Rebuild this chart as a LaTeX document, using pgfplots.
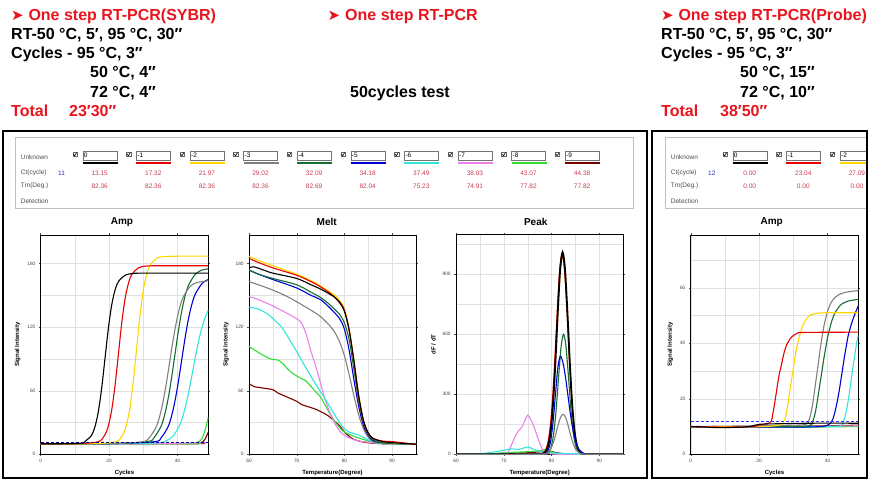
\documentclass[border=0pt]{standalone}
\usepackage{fontspec}
\usepackage{pgfplots}
\pgfplotsset{compat=1.18}
\setmainfont{Liberation Sans}
\newfontfamily\sym{DejaVu Sans}

\definecolor{hdrred}{RGB}{232,20,30}
\definecolor{c0}{RGB}{0,0,0}
\definecolor{c1}{RGB}{230,0,0}
\definecolor{c2}{RGB}{255,215,0}
\definecolor{c3}{RGB}{128,128,128}
\definecolor{c4}{RGB}{20,110,50}
\definecolor{c5}{RGB}{0,0,210}
\definecolor{c6}{RGB}{50,230,220}
\definecolor{c7}{RGB}{235,130,235}
\definecolor{c8}{RGB}{50,220,50}
\definecolor{c9}{RGB}{120,0,0}
\definecolor{valred}{RGB}{200,60,80}
\definecolor{valblue}{RGB}{40,40,200}

\newcommand\hf{\bfseries\fontsize{16}{17}\selectfont}
\newcommand\arr{\sym\fontsize{15}{15}\selectfont ➤}

\pgfplotsset{
  pcr/.style={
    scale only axis, anchor=south west,
    axis line style={black, line width=0.6pt},
    grid=both,
    grid style={black!12, line width=0.4pt},
    tick align=outside, major tick length=1.8pt, minor tick length=0pt,
    tick style={black!70, line width=0.4pt},
    ticklabel style={font=\fontsize{4.8}{5}\selectfont, text=black!75},
    /pgf/number format/assume math mode=true,
    label style={font=\bfseries\fontsize{6}{7}\selectfont},
    every axis plot/.append style={line width=1.1pt, no marks, smooth},
  },
}

\begin{document}
\begin{tikzpicture}

% ---------------- header text ----------------
\begin{scope}[x=1pt, y=-1pt, every node/.style={anchor=base west, inner sep=0pt}]
  \node[text=hdrred] at (11,20.7) {\arr};
  \node[text=hdrred] at (28.3,20.7) {\hf One step RT-PCR(SYBR)};
  \node at (11,39.5) {\hf RT-50 °C, 5′, 95 °C, 30″};
  \node at (11,58.5) {\hf Cycles - 95 °C, 3″};
  \node at (90,77.5) {\hf 50 °C, 4″};
  \node at (90,97) {\hf 72 °C, 4″};
  \node[text=hdrred] at (11,116.5) {\hf Total};
  \node[text=hdrred] at (69,116.5) {\hf 23′30″};

  \node[text=hdrred] at (327.5,20.7) {\arr};
  \node[text=hdrred] at (345,20.7) {\hf One step RT-PCR};
  \node at (350,97) {\hf 50cycles test};

  \node[text=hdrred] at (661,20.7) {\arr};
  \node[text=hdrred] at (678.3,20.7) {\hf One step RT-PCR(Probe)};
  \node at (661,39.5) {\hf RT-50 °C, 5′, 95 °C, 30″};
  \node at (661,58.5) {\hf Cycles - 95 °C, 3″};
  \node at (740,77.5) {\hf 50 °C, 15″};
  \node at (740,97) {\hf 72 °C, 10″};
  \node[text=hdrred] at (661,116.5) {\hf Total};
  \node[text=hdrred] at (720,116.5) {\hf 38′50″};
\end{scope}

% ---------------- left result table ----------------
\begin{scope}[x=1pt, y=-1pt, font=\fontsize{6.5}{7}\selectfont]
  \draw[black!25, line width=0.5pt] (15,137) rectangle (633,208);
  \node[anchor=west, inner sep=0pt, text=black!70] at (20.7,157) {Unknown};
  \node[anchor=west, inner sep=0pt, text=black!70] at (20.7,173.3) {Ct(cycle)};
  \node[anchor=west, inner sep=0pt, text=black!70] at (20.7,186) {Tm(Deg.)};
  \node[anchor=west, inner sep=0pt, text=black!70] at (20.7,200.7) {Detection};
  \node[anchor=west, inner sep=0pt, text=valblue] at (58,173.3) {11};
  \foreach \lab/\col/\ct/\tm [count=\i from 0] in
    {0/c0/13.15/82.36, -1/c1/17.32/82.36, -2/c2/21.97/82.36, -3/c3/29.02/82.36,
     -4/c4/32.09/82.69, -5/c5/34.18/82.04, -6/c6/37.49/75.23, -7/c7/38.03/74.91,
     -8/c8/43.07/77.82, -9/c9/44.38/77.82} {
    \pgfmathsetmacro\cx{72.7+53.6*\i}
    \draw[black!60, line width=0.4pt] (\cx,152) rectangle +(4.5,4.5);
    \draw[black, line width=0.6pt] (\cx+0.8,154) -- (\cx+2,155.8) -- (\cx+4,152.6);
    \draw[black!55, fill=white, line width=0.4pt] (\cx+10,150.7) rectangle (\cx+44,160);
    \node[anchor=west, inner sep=0.5pt] at (\cx+10.5,155.3) {\lab};
    \draw[\col, line width=2pt] (\cx+10,163) -- (\cx+45,163);
    \node[text=valred, inner sep=0pt] at (\cx+27,173.3) {\ct};
    \node[text=valred, inner sep=0pt] at (\cx+27,186) {\tm};
  }
\end{scope}

% ---------------- right result table (cut by the frame) ----------------
\begin{scope}[x=1pt, y=-1pt, font=\fontsize{6.5}{7}\selectfont]
  \clip (653,131) rectangle (866,478);
  \draw[black!25, line width=0.5pt] (665,137) rectangle (900,208);
  \node[anchor=west, inner sep=0pt, text=black!70] at (670.7,157) {Unknown};
  \node[anchor=west, inner sep=0pt, text=black!70] at (670.7,173.3) {Ct(cycle)};
  \node[anchor=west, inner sep=0pt, text=black!70] at (670.7,186) {Tm(Deg.)};
  \node[anchor=west, inner sep=0pt, text=black!70] at (670.7,200.7) {Detection};
  \node[anchor=west, inner sep=0pt, text=valblue] at (708,173.3) {12};
  \foreach \lab/\col/\ct/\tm [count=\i from 0] in
    {0/c0/0.00/0.00, -1/c1/23.04/0.00, -2/c2/27.09/0.00} {
    \pgfmathsetmacro\cx{722.7+53.6*\i}
    \draw[black!60, line width=0.4pt] (\cx,152) rectangle +(4.5,4.5);
    \draw[black, line width=0.6pt] (\cx+0.8,154) -- (\cx+2,155.8) -- (\cx+4,152.6);
    \draw[black!55, fill=white, line width=0.4pt] (\cx+10,150.7) rectangle (\cx+44,160);
    \node[anchor=west, inner sep=0.5pt] at (\cx+10.5,155.3) {\lab};
    \draw[\col, line width=2pt] (\cx+10,163) -- (\cx+45,163);
    \node[text=valred, inner sep=0pt] at (\cx+27,173.3) {\ct};
    \node[text=valred, inner sep=0pt] at (\cx+27,186) {\tm};
  }
\end{scope}

% ---------------- panel titles ----------------
\begin{scope}[x=1pt, y=-1pt, every node/.style={font=\bfseries\fontsize{10}{11}\selectfont}]
  \node at (122,222) {Amp};
  \node at (326.7,222) {Melt};
  \node at (535.7,222) {Peak};
  \node at (771.7,222) {Amp};
\end{scope}

% ---------------- Amp (SYBR) ----------------
\begin{axis}[pcr, at={(40.7pt,-454.3pt)}, width=167.6pt, height=219.3pt,
  xmin=0, xmax=49, ymin=0, ymax=207,
  xtick={0,20,40}, minor xtick={10,30}, ytick={0,60,120,180}, minor ytick={30,90,150},
  xlabel={Cycles}, ylabel={Signal Intensity}]
  \addplot[c9] coordinates {(0,10)(45,10)(46,10.3)(47,11)(48,14)(49,21)};
  \addplot[c8] coordinates {(0,10)(44,10)(45,10.5)(46,11.5)(47,14)(48,22)(49,35)};
  \addplot[c7] coordinates {(0,10)(30,10)(49,11)};
  \addplot[c6] coordinates {(0,10)(25,10)(34.5,10.9)(36.5,12.5)(38.5,16.5)(40.5,26.5)(41.5,35.3)(42.5,47.4)(43.5,62.5)(44.5,79.5)(45.5,96.5)(46.5,111.6)(47.5,123.7)(48.5,132.5)(49,136)};
  \addplot[c5] coordinates {(0,10)(20,10)(33.2,11.9)(35.2,15.6)(37.2,25.7)(38.2,35.3)(39.2,49.3)(40.2,67.5)(41.2,88.5)(42.2,109.5)(43.2,127.8)(44.2,141.7)(45.2,151.3)(47.2,161.3)(49,165)};
  \addplot[c4] coordinates {(0,10)(20,10)(31.2,12)(33.2,15.9)(35.2,26.6)(36.2,36.7)(37.2,51.5)(38.2,70.8)(39.2,93)(40.2,115.2)(41.2,134.5)(42.2,149.3)(43.2,159.4)(45.2,170)(47.2,174)(49,175)};
  \addplot[c3] coordinates {(0,10)(20,10)(29.7,11.8)(31.7,15.5)(33.7,25.4)(34.7,34.8)(35.7,48.5)(36.7,66.4)(37.7,87)(38.7,107.6)(39.7,125.5)(40.7,139.2)(41.7,148.6)(43.7,158.5)(45.7,162.2)(49,163.8)};
  \addplot[c2] coordinates {(0,10)(15,10)(22,11.9)(24,18.3)(25,26.8)(26,42.2)(27,66.8)(28,98.5)(29,130.2)(30,154.8)(31,170.2)(32,178.7)(34,185.1)(36,186.6)(40,187)(49,187)};
  \addplot[c1] coordinates {(0,10)(10,10)(16.7,11.8)(18.7,17.9)(19.7,26)(20.7,40.6)(21.7,63.9)(22.7,94)(23.7,124.1)(24.7,147.4)(25.7,162)(26.7,170.1)(28.7,176.2)(30.7,177.6)(34,178)(49,178)};
  \addplot[c0] coordinates {(0,10)(6,10)(12,10.5)(12.8,11.8)(14.8,17.6)(15.8,25.3)(16.8,39.3)(17.8,61.7)(18.8,90.5)(19.8,119.3)(20.8,141.7)(21.8,155.7)(22.8,163.4)(24.8,169.2)(26.8,170.6)(30,171)(49,171)};
  \addplot[blue!60!black, densely dashed, line width=0.6pt, sharp plot] coordinates {(0,11)(49,11)};
\end{axis}

% ---------------- Melt ----------------
\begin{axis}[pcr, at={(249pt,-454.3pt)}, width=167pt, height=219.3pt,
  xmin=60, xmax=95, ymin=0, ymax=207,
  xtick={60,70,80,90}, minor xtick={65,75,85}, ytick={0,60,120,180}, minor ytick={30,90,150},
  xlabel={Temperature(Degree)}, ylabel={Signal Intensity}]
  \addplot[c9] coordinates {(60,67)(61,64)(63,62.5)(65,61)(66,58)(68,54)(70,50)(71,47)(72,45.5)(74,42.5)(76,38)(77,35)(78,31)(79,27)(80,21)(81,17)(82,14)(84,11.5)(86,10.5)(88,10)(95,9.5)};
  \addplot[c8] coordinates {(60,102)(62,96)(64,91)(65,89.5)(66,89)(67,86)(68,81)(69,77)(70,74)(71,71.5)(72,69)(73,64)(74,59)(75,54)(76,46)(77,38)(78,31)(79,25)(80,21)(82,17)(84,14)(86,11)(88,10)(95,9.5)};
  \addplot[c7] coordinates {(60,149)(62,146)(65,140)(68,133)(70,128)(71,124)(72,113)(73,97)(74,83)(75,67)(76,51)(77,39)(78,29)(79,22)(80,18)(81,15.5)(83,12.5)(86,11)(90,10)(95,9.5)};
  \addplot[c6] coordinates {(60,139)(62,137)(64,132)(66,124)(67,119)(68,112)(70,97)(72,81)(74,66)(76,52)(78,37)(79,30)(80,24)(81,21)(82,19.5)(83,18)(84,16)(85,13.5)(86,12)(88,10.5)(95,9.5)};
  \addplot[c3] coordinates {(60,163)(62,160)(65,155)(68,149)(70,144)(73,136)(75,130)(77,121)(78,115)(79,106)(80,93)(81,75)(82,55)(83,37)(84,24)(85,16)(86,12)(88,10.5)(95,9.5)};
  \addplot[c5] coordinates {(60,174)(62,170)(65,165)(70,157)(73,150)(75,146)(77,138)(79,128)(80,118)(81,98)(82,70)(83,45)(84,27)(85,18)(86,13)(88,11)(95,9.5)};
  \addplot[c4] coordinates {(60,174)(62,170)(65,166)(70,160)(73,153)(75,148)(77,141)(79,132)(80,124)(81,108)(82,80)(83,50)(84,30)(85,19)(86,14)(88,11)(95,9.5)};
  \addplot[c2] coordinates {(60,187)(62,183)(65,178)(70,170)(73,164)(75,159)(77,153)(78,150)(79,145)(80,137)(81,118)(82,88)(83,55)(84,32)(85,20)(86,15)(88,12)(90,11)(95,9.5)};
  \addplot[c1] coordinates {(60,185)(62,181)(65,176)(70,169)(73,163)(75,158)(77,152)(78,148)(79,144)(80,136)(81,117)(82,87)(83,54)(84,31)(85,20)(86,15)(88,12.5)(90,12)(92,11)(95,9.5)};
  \addplot[c0] coordinates {(60,176)(61,177)(63,174)(65,171)(70,166)(73,160)(75,156)(77,151)(78,148)(79,143)(80,135)(81,117)(82,88)(83,55)(84,32)(85,20)(86,15)(88,12)(90,11)(95,9.5)};
\end{axis}

% ---------------- Peak ----------------
\begin{axis}[pcr, at={(456pt,-454.3pt)}, width=167.3pt, height=220pt,
  xmin=60, xmax=95, ymin=0, ymax=1100,
  xtick={60,70,80,90}, minor xtick={65,75,85}, ytick={0,300,600,900}, minor ytick={150,450,750,1050},
  xlabel={Temperature(Degree)}, ylabel={dF / dT}]
  \addplot[c9] coordinates {(60,0)(68,2)(72,5)(75,8)(77,11)(78.5,14)(79.5,15)(80.5,11)(81.5,6)(83,2)(85,0)(95,0)};
  \addplot[c8] coordinates {(60,0)(65,1)(68,4)(70,8)(73,11)(75,13)(77,17)(78,21)(79,24)(79.5,20)(80,12)(81,5)(82,2)(84,0)(95,0)};
  \addplot[c7] coordinates {(60,0)(69,0)(70,1)(70.5,4)(71,15)(71.5,40)(72,70)(72.5,95)(73,115)(73.5,128)(74,145)(74.5,175)(75,196)(75.5,180)(76,155)(76.5,125)(77,90)(77.5,58)(78,30)(78.5,12)(79,5)(80,2)(82,0)(95,0)};
  \addplot[c6] coordinates {(60,0)(64,1)(66,5)(68,12)(70,20)(71,26)(72,27)(73,24)(74,30)(75,37)(76,28)(77,18)(78,12)(79,9)(80,7)(82,5)(84,3)(86,1)(88,0)(95,0)};
  \addplot[c2] coordinates {(60,0)(76,0)(78.3,4)(78.8,14)(79.3,43)(79.8,113)(80.3,247)(80.8,454)(81.3,700)(81.8,907)(82.3,990)(82.8,907)(83.3,700)(83.8,454)(84.3,247)(84.8,113)(85.3,43)(85.8,14)(86.3,4)(88,0)(95,0)};
  \addplot[c1] coordinates {(60,0)(76,0)(78.2,6)(78.7,20)(79.2,56)(79.7,135)(80.2,278)(80.7,487)(81.2,726)(81.7,923)(82.2,1000)(82.7,923)(83.2,726)(83.7,487)(84.2,278)(84.7,135)(85.2,56)(85.7,20)(86.2,6)(88,0)(95,0)};
  \addplot[c0, line width=1.8pt] coordinates {(60,0)(76,0)(78.3,4)(78.8,14)(79.3,44)(79.8,115)(80.3,252)(80.8,463)(81.3,714)(81.8,926)(82.3,1010)(82.8,926)(83.3,714)(83.8,463)(84.3,252)(84.8,115)(85.3,44)(85.8,14)(86.3,4)(88,0)(95,0)};
  \addplot[c4] coordinates {(60,0)(76,0)(79,4)(79.5,14)(80,46)(80.5,115)(81,237)(81.5,397)(82,541)(82.5,600)(83,541)(83.5,397)(84,237)(84.5,115)(85,46)(85.5,14)(86,4)(88,0)(95,0)};
  \addplot[c5] coordinates {(60,0)(77,0)(78.8,5)(79.3,22)(79.8,66)(80.3,159)(80.8,297)(81.3,432)(81.8,490)(82.3,466)(82.8,403)(83.3,316)(83.8,224)(84.3,145)(84.8,84)(85.3,45)(85.8,22)(86.8,4)(88,0)(95,0)};
  \addplot[c3] coordinates {(60,0)(77,0)(78.4,2)(78.9,5)(79.4,14)(79.9,31)(80.4,61)(80.9,103)(81.4,149)(81.9,186)(82.4,200)(82.9,186)(83.4,149)(83.9,103)(84.4,61)(84.9,31)(85.4,14)(85.9,5)(86.4,2)(88,0)(95,0)};
\end{axis}

% ---------------- Amp (Probe) ----------------
\begin{axis}[pcr, at={(690.7pt,-454.3pt)}, width=167.6pt, height=219.3pt,
  xmin=0, xmax=49, ymin=0, ymax=79,
  xtick={0,20,40}, minor xtick={10,30}, ytick={0,20,40,60}, minor ytick={10,30,50,70},
  xlabel={Cycles}, ylabel={Signal Intensity}]
  \addplot[c9] coordinates {(0,9.8)(25,10)(49,10.5)};
  \addplot[c8] coordinates {(0,10)(25,9.7)(49,10)};
  \addplot[c7] coordinates {(0,10)(20,9.8)(49,10.3)};
  \addplot[c6] coordinates {(0,10)(40,10)(44,10.5)(44.5,11.5)(45,13)(45.5,15.5)(46,19)(46.5,23)(47,27.5)(47.5,32)(48,36)(48.5,40)(49,43)};
  \addplot[c5] coordinates {(0,10)(30,9.8)(38,10)(40,10.5)(41,11.5)(41.5,12.5)(42,14.5)(42.5,17)(43,20)(43.5,23.5)(44,27.5)(44.5,31.5)(45,35.5)(45.5,39)(46,42.5)(47,47)(48,50.5)(49,53.5)};
  \addplot[c4] coordinates {(0,10)(30,10)(35,10.5)(35.5,11.5)(36,13)(36.5,15.5)(37,19)(37.5,23)(38,27)(38.5,31)(39,35)(39.5,38.5)(40,42)(41,47)(42,50.5)(43,52.5)(44,54)(46,55.2)(49,55.8)};
  \addplot[c3] coordinates {(0,10)(30,10.5)(34,11)(34.5,12)(35,14)(35.5,17)(36,21)(36.5,25.5)(37,30)(37.5,34.5)(38,39)(38.5,43)(39,46.5)(40,51.5)(41,54.5)(42,56.3)(43,57.3)(45,58.3)(47,58.7)(49,59)};
  \addplot[c2] coordinates {(0,10)(20,10)(26,10.5)(27,11.5)(27.5,12.5)(28,15)(28.5,19)(29,23)(29.5,27)(30,31)(30.5,35)(31,38.5)(32,43.5)(33,47)(34,49)(35,50.2)(37,50.8)(40,51)(49,51)};
  \addplot[c1] coordinates {(0,10)(10,9.8)(18,10)(20,10.5)(22,11)(23,11.3)(23.6,12)(24,14.5)(24.5,18)(25,22)(25.5,26)(26,29.5)(26.5,32)(27,35)(27.5,37.5)(28,39.3)(29,41.5)(30,42.8)(31,43.5)(33,43.9)(49,44)};
  \addplot[c0] coordinates {(0,10)(5,9.8)(8,9.6)(15,9.8)(18,10.2)(20,10.8)(25,11)(35,11.2)(49,11.2)};
  \addplot[blue!80, densely dashed, line width=0.6pt, sharp plot] coordinates {(0,12)(49,12)};
\end{axis}

% ---------------- frames ----------------
\begin{scope}[x=1pt, y=-1pt]
  \draw[black, line width=2.5pt] (3,131) rectangle (647,478);
  \draw[black, line width=2.5pt] (652,131) rectangle (867,478);
\end{scope}

\pgfresetboundingbox
\useasboundingbox (0pt,0pt) rectangle (887pt,-480pt);
\end{tikzpicture}
\end{document}
